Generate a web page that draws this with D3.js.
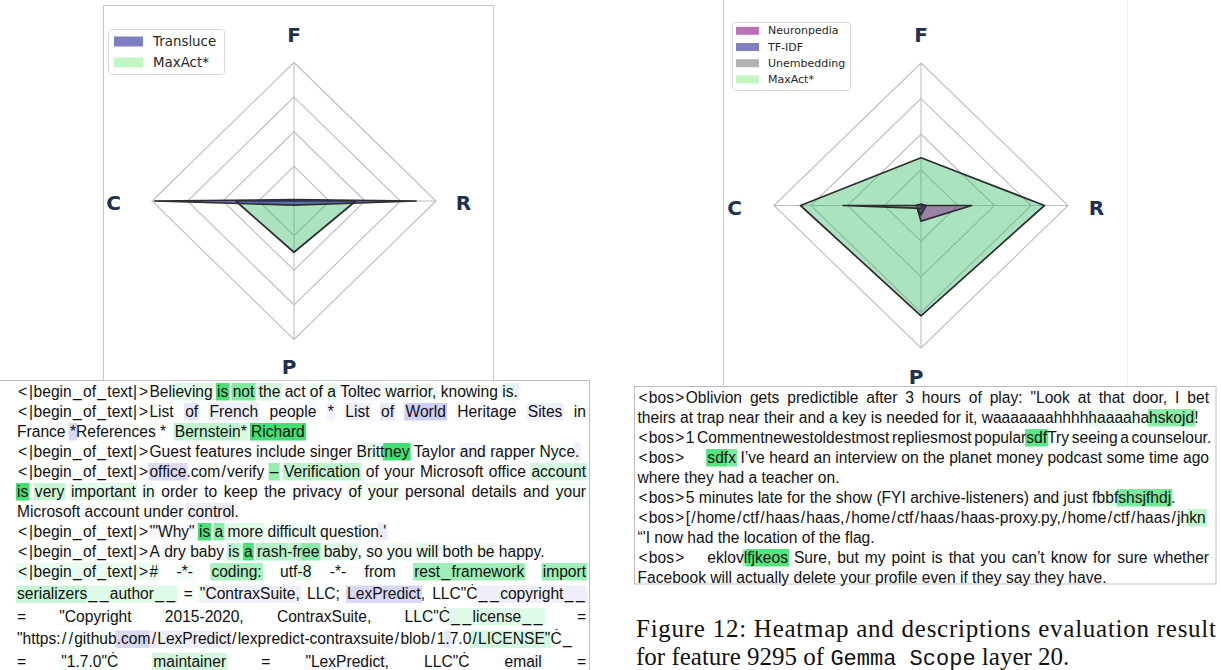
<!DOCTYPE html>
<html>
<head>
<meta charset="utf-8">
<script src="https://cdn.jsdelivr.net/npm/d3@7"></script>
<style>
  html, body { margin: 0; padding: 0; background: #ffffff; overflow: hidden; }
</style>
</head>
<body>
<svg id="fig" width="1221" height="670"></svg>
<script>
// ---------- radar data (axis order clockwise from the top) ----------
const axes = ["F", "R", "P", "C"];
const gridLevels = [0.25, 0.5, 0.75, 1.0];

const leftNames = ["Transluce", "MaxAct*"];
const leftTransluce = [0.01, 0.86, 0.03, 0.98];
const leftMaxAct = [0.0, 0.435, 0.37, 0.41];

const rightNames = ["Neuronpedia", "TF-IDF", "Unembedding", "MaxAct*"];
const rightNeuronpedia = [0.0, 0.345, 0.11, 0.03];
const rightTfidf = [0.01, 0.035, 0.065, 0.035];
const rightUnembedding = [0.0, 0.02, 0.02, 0.53];
const rightMaxAct = [0.335, 0.84, 0.775, 0.82];

// ---------- token heatmaps: [token text, activation] (+ green, - lavender) ----------
const leftParagraphs = [
  [
    [["<|begin_of_text|>Bel", 0], ["ieving", 0.15], [" is", 0.85], [" not", 0.6], [" the", 0.2], [" act", 0.02],
     [" of", 0.12], [" a", 0.12], [" Toltec", -0.08], [" warrior,", 0.06], [" knowing", 0], [" is", 0.12], [".", -0.12]]
  ],
  [
    [["<|begin_of_text|>List", 0], [" of", -0.2], [" French", -0.12], [" people", -0.04], [" *", -0.1], [" List", -0.12],
     [" of", -0.18], [" World", -0.38], [" Heritage", -0.04], [" Sites", -0.12], [" in", 0.03]],
    [["France", -0.03], [" *", -0.3], ["References", 0], [" *", 0], ["  Bernstein", 0.3], ["*", 0.18], [" Richard", 0.88]]
  ],
  [
    [["<|begin_of_text|>Guest features include singer ", 0], ["Britt", 0.12], ["ney", 0.88], [" Taylor", 0],
     [" and", -0.08], [" rapper", 0.02], [" Nyce", 0.04], [".", -0.12]]
  ],
  [
    [["<|begin_of_text|>", 0], ["office", -0.28], [".com/verify", 0], [" –", 0.5], [" Verification", 0.3],
     [" of your Microsoft office", 0], [" account", 0.2]],
    [["is", 0.9], [" very", 0.25], [" important", 0.15], [" in", 0.07], [" order to keep the", 0], [" privacy", -0.05],
     [" of", 0.08], [" your", 0.08], [" personal", -0.04], [" details", 0], [" and", 0], [" your", 0.07]],
    [["Microsoft account under", 0], [" control", -0.15], [".", -0.05]]
  ],
  [
    [["<|begin_of_text|>", 0], ["'\"Why\"", -0.04], [" is", 0.85], [" a", 0.55], [" more", 0.15], [" difficult", 0.07],
     [" question", 0.03], [".'", -0.15]]
  ],
  [
    [["<|begin_of_text|>A", 0], [" dry", -0.04], [" baby", 0], [" is", 0.3], [" a", 0.85], [" rash", 0.35], ["-fr", 0.3],
     ["ee", 0.55], [" baby", 0.15], [",", 0], [" so", 0], [" you", 0.08], [" will", 0.12], [" both", 0.05], [" be", 0.08],
     [" happy.", 0]]
  ],
  [
    [["<|begin_of_text|>#", 0.1], [" -*-", 0.05], [" coding:", 0.4], [" utf", 0.05], ["-8", 0.15], [" -*-", 0],
     [" from", 0.05], [" rest_framework", 0.45], [" import", 0.45]],
    [["serializers", 0.25], ["__author__", 0.15], [" =", 0], [" \"", 0.12], ["ContraxSuite,", -0.12], [" LLC;", 0],
     [" LexPredict", -0.3], [",", 0], [" LLC\"Ċ", 0], ["__copyright__", -0.12]],
    [["=", 0], [" \"Copyright", 0.03], [" 2015-2020,", 0.03], [" ContraxSuite,", 0], [" LLC\"Ċ", 0.04],
     ["__license__", 0.15], [" =", 0]],
    [["\"https", 0], ["://github", 0.05], [".com", -0.3], ["/LexPredict", -0.12], ["/lexpredict-contraxsuite/blob/1", 0],
     [".", -0.2], ["7.0", 0], ["/LICENSE\"", 0.2], ["Ċ_", 0]],
    [["=", 0], [" \"1.7.0\"Ċ", 0.04], [" maintainer", 0.2], [" =", 0], [" \"LexPredict,", -0.05], [" LLC\"Ċ", 0],
     [" email", -0.05], [" =", 0]]
  ]
];

const rightParagraphs = [
  [
    [["<bos>Oblivion gets predictible after 3 hours of play: \"Look at that door, I bet", 0]],
    [["theirs at trap near their and a key is needed for it, waaaaaaahhhh", 0], ["haaaa", 0.1], ["ha", 0.05],
     ["hskojd", 0.55], ["!", 0]]
  ],
  [
    [["<bos>1 Commentnewestoldestmost repliesmost popular", 0], ["sdf", 0.75], ["Try seeing a counselour.", 0]]
  ],
  [
    [["<bos>", 0], ["\u00a0\u00a0\u00a0\u00a0\u00a0", 0], ["sdf", 0.8], ["x", 0.6],
     [" I’ve heard an interview on the planet money podcast some time ago", 0]],
    [["where they had a teacher on.", 0]]
  ],
  [
    [["<bos>5 minutes late for the show (FYI archive-listeners) and just ", 0], ["fb", 0.08], ["bf", 0.15],
     ["shsj", 0.6], ["fhdj", 0.65], [".", 0]]
  ],
  [
    [["<bos>[/home/ctf/haas/haas,/home/ctf/haas/haas-proxy.py,/home/ctf/haas/", 0], ["jh", 0.08], ["kn", 0.3]],
    [["“'I now had the location of the flag.", 0]]
  ],
  [
    [["<bos>", 0], ["\u00a0\u00a0\u00a0\u00a0\u00a0", 0], ["eklov", 0], ["l", 0.45], ["fjkeos", 0.8],
     [" Sure, but my point is that you can’t know for sure whether", 0]],
    [["Facebook will actually delete your profile even if they say they have.", 0]]
  ]
];

const captionLine1 = "Figure 12: Heatmap and descriptions evaluation result";
const captionLine2 = [["for feature 9295 of ", "serif"], ["Gemma", "mono"], ["\u00a0", "mono"], ["Scope", "mono"], [" layer 20.", "serif"]];

// ---------- drawing ----------
const svg = d3.select("#fig");

// series fills; MaxAct* is painted underneath the other series
const seriesStyle = {
  "Transluce":   { fill: "#2a2a9a", op: 0.6 },
  "TF-IDF":      { fill: "#2a2a9a", op: 0.6 },
  "Neuronpedia": { fill: "#800080", op: 0.42, legendOp: 0.55 },
  "Unembedding": { fill: "#808080", op: 0.6 },
  "MaxAct*":     { fill: "#3cbe6e", op: 0.43, legendFill: "#90ee90", legendOp: 0.55, under: true }
};

const textFont = "'Liberation Sans', Arial, sans-serif";
const textSize = 15.6;
// extra side bearings for glyphs that are wider in the typeset text
const glyphPad = { "<": [1, 1.2], ">": [1.2, 1.4], "_": [1.3, 1.3], "|": [0.6, 0.6], "/": [1.2, 1.2] };

// token colour: lavender for negative, green for positive activations
const posColor = d3.interpolateRgb("#ffffff", "#28dc5f");
const negColor = d3.interpolateRgb("#ffffff", "#7d7de0");
const tokenColor = v => v > 0 ? posColor(Math.min(1, v)) : negColor(Math.min(1, -v));

// hidden text node used for measuring token widths
const meas = svg.append("text")
  .attr("font-family", textFont).attr("font-size", textSize)
  .attr("visibility", "hidden").attr("x", -1000).attr("y", -1000);
function tw(s) { meas.text(s); return meas.node().getComputedTextLength(); }
const spaceW = tw("a a") - tw("aa");

function pieceLayout(piece) {
  let x = 0;
  const parts = [];
  piece.split(/([<>_|\/])/).filter(s => s !== "").forEach(r => {
    const pad = glyphPad[r];
    if (pad) { x += pad[0]; parts.push({ t: r, dx: x }); x += tw(r) + pad[1]; }
    else { parts.push({ t: r, dx: x }); x += tw(r); }
  });
  return { parts, w: x };
}

function drawTextPanel(g, paragraphs, o) {
  const W = o.x1 - o.x0;
  let baseline = o.firstBaseline;
  let first = true;
  paragraphs.forEach((para, pi) => {
    para.forEach((line, li) => {
      const accented = line.some(s => s[0].includes("Ċ"));
      if (!first) baseline += accented ? 22.5 : 20;
      first = false;
      const lastLine = li === para.length - 1 && !(o.openEnd && pi === paragraphs.length - 1);

      const items = [];
      line.forEach(([t, v]) => {
        t.split(/( )/).forEach(p => {
          if (p === "") return;
          if (p === " ") items.push({ sp: true });
          else { const L = pieceLayout(p); items.push({ t: p, v: v, w: L.w, parts: L.parts }); }
        });
      });
      const nSp = items.filter(d => d.sp).length;
      const natural = d3.sum(items, d => d.sp ? spaceW : d.w);
      let sw = spaceW;
      // justify every line but a paragraph's last; squeeze any line that runs long
      if ((!lastLine || natural > W) && nSp > 0) sw = Math.max(spaceW * 0.6, spaceW + (W - natural) / nSp);
      let x = o.x0;
      items.forEach(d => { d.x = x; x += d.sp ? sw : d.w; });
      const words = items.filter(d => !d.sp);

      const lg = g.append("g");
      lg.selectAll("rect").data(words.filter(d => d.v !== 0)).join("rect")
        .attr("x", d => d.x - 1.2)
        .attr("y", baseline - 13.5)
        .attr("width", d => d.w + 2.4)
        .attr("height", 17.5)
        .attr("fill", d => tokenColor(d.v));
      lg.selectAll("text").data(words).join("text")
        .attr("y", baseline)
        .attr("font-family", textFont)
        .attr("font-size", textSize)
        .attr("fill", "#111")
        .selectAll("tspan").data(d => d.parts.map(p => ({ t: p.t, x: d.x + p.dx }))).join("tspan")
        .attr("x", p => p.x)
        .text(p => p.t);
    });
  });
}

function drawRadar(g, o) {
  const ang = d3.scalePoint().domain(axes).range([0, 1.5 * Math.PI]);
  const rad = d3.scaleLinear().domain([0, 1]).range([0, 1]);
  const pt = (a, v) => [o.cx + Math.sin(ang(a)) * o.rx * rad(v), o.cy - Math.cos(ang(a)) * o.ry * rad(v)];
  const poly = d3.line().curve(d3.curveLinearClosed);

  g.append("g").selectAll("path").data(gridLevels).join("path")
    .attr("d", lv => poly(axes.map(a => pt(a, lv))))
    .attr("fill", "none").attr("stroke", "#bdbdbd").attr("stroke-width", 1.1);
  g.append("g").selectAll("line").data(axes).join("line")
    .attr("x1", o.cx).attr("y1", o.cy)
    .attr("x2", a => pt(a, 1)[0]).attr("y2", a => pt(a, 1)[1])
    .attr("stroke", "#bdbdbd").attr("stroke-width", 1.1);

  const painted = o.series.filter(s => seriesStyle[s.name].under)
    .concat(o.series.filter(s => !seriesStyle[s.name].under));
  painted.forEach(s => {
    const st = seriesStyle[s.name];
    g.append("path")
      .attr("d", poly(axes.map((a, i) => pt(a, s.values[i]))))
      .attr("fill", st.fill).attr("fill-opacity", st.op)
      .attr("stroke", "#2e2e2e").attr("stroke-width", 1.7).attr("stroke-linejoin", "round");
  });

  const labelShift = { F: [0, 0], R: [-1, 2], P: [-5, 0], C: [-10, 2] };
  g.append("g").selectAll("text").data(axes).join("text")
    .attr("x", a => pt(a, 1.2)[0] + labelShift[a][0])
    .attr("y", a => pt(a, 1.2)[1] + labelShift[a][1])
    .attr("text-anchor", "middle").attr("dominant-baseline", "central")
    .attr("font-family", "'DejaVu Sans', sans-serif").attr("font-weight", "bold")
    .attr("font-size", 20).attr("fill", "#1d3250")
    .text(a => a);

  // legend
  const L = o.legend;
  const lg = g.append("g");
  lg.append("rect").attr("x", L.x).attr("y", L.y).attr("width", L.w).attr("height", L.h)
    .attr("rx", 3).attr("fill", "#fff").attr("fill-opacity", 0.8)
    .attr("stroke", "#d8d8d8").attr("stroke-width", 1);
  const rows = lg.selectAll("g").data(o.series.map(s => s.name)).join("g")
    .attr("transform", (d, i) => `translate(0,${L.row0 + i * L.step})`);
  rows.append("rect")
    .attr("x", L.sx).attr("y", -L.sh / 2).attr("width", L.sw).attr("height", L.sh)
    .attr("fill", d => seriesStyle[d].legendFill || seriesStyle[d].fill)
    .attr("fill-opacity", d => seriesStyle[d].legendOp || seriesStyle[d].op);
  rows.append("text")
    .attr("x", L.tx).attr("y", 0).attr("dominant-baseline", "central")
    .attr("font-family", "'DejaVu Sans', sans-serif").attr("font-size", L.fs).attr("fill", "#262626")
    .text(d => d);
}

// text panels (drawn first; the chart panels sit above their top edges)
const leftText = svg.append("g");
leftText.append("path").attr("d", "M-2,380.5H589.5V672").attr("fill", "none").attr("stroke", "#bdbdbd");
drawTextPanel(leftText, leftParagraphs, { x0: 17, x1: 586, firstBaseline: 396.5, openEnd: true });

const rightText = svg.append("g");
rightText.append("rect").attr("x", 634.5).attr("y", 386.5).attr("width", 581.5).attr("height", 197.5)
  .attr("fill", "none").attr("stroke", "#bdbdbd");
drawTextPanel(rightText, rightParagraphs, { x0: 637.5, x1: 1209, firstBaseline: 402.5, openEnd: false });

// left chart panel
const leftChart = svg.append("g");
leftChart.append("rect").attr("x", 103.5).attr("y", 5.5).attr("width", 390).attr("height", 375)
  .attr("fill", "#fff").attr("stroke", "#c8c8c8");
drawRadar(leftChart, {
  cx: 294, cy: 201, rx: 142, ry: 138.5,
  series: [{ name: leftNames[0], values: leftTransluce }, { name: leftNames[1], values: leftMaxAct }],
  legend: { x: 108.5, y: 29.5, w: 116, h: 45, row0: 41.5, step: 21, sx: 114, sw: 29, sh: 10, tx: 153, fs: 13.4 }
});

// right chart panel
const rightChart = svg.append("g");
rightChart.append("rect").attr("x", 723.5).attr("y", -2).attr("width", 404).attr("height", 388)
  .attr("fill", "#fff").attr("stroke", "none");
rightChart.append("line").attr("x1", 723.5).attr("x2", 723.5).attr("y1", 0).attr("y2", 386)
  .attr("stroke", "#c8c8c8");
rightChart.append("line").attr("x1", 1127.5).attr("x2", 1127.5).attr("y1", 0).attr("y2", 386)
  .attr("stroke", "#f0f0f0");
drawRadar(rightChart, {
  cx: 921, cy: 205.5, rx: 147, ry: 142.5,
  series: [
    { name: rightNames[0], values: rightNeuronpedia },
    { name: rightNames[1], values: rightTfidf },
    { name: rightNames[2], values: rightUnembedding },
    { name: rightNames[3], values: rightMaxAct }
  ],
  legend: { x: 732.5, y: 22.5, w: 118, h: 68, row0: 30.8, step: 16.2, sx: 736, sw: 23, sh: 8, tx: 768, fs: 11 }
});

// caption
const serif = "'Liberation Serif', 'Times New Roman', serif";
const cap = svg.append("g").attr("fill", "#111");
cap.append("text").attr("x", 636).attr("y", 637)
  .attr("font-family", serif).attr("font-size", 25)
  .attr("textLength", 580).attr("lengthAdjust", "spacing")
  .text(captionLine1);
const c2 = cap.append("text").attr("x", 636).attr("y", 664.5)
  .attr("font-family", serif).attr("font-size", 25)
  .attr("xml:space", "preserve");
c2.selectAll("tspan").data(captionLine2).join("tspan")
  .attr("font-family", d => d[1] === "mono" ? "'Liberation Mono', 'DejaVu Sans Mono', monospace" : null)
  .attr("font-size", d => d[1] === "mono" ? 22 : null)
  .text(d => d[0]);

meas.remove();
</script>
</body>
</html>
